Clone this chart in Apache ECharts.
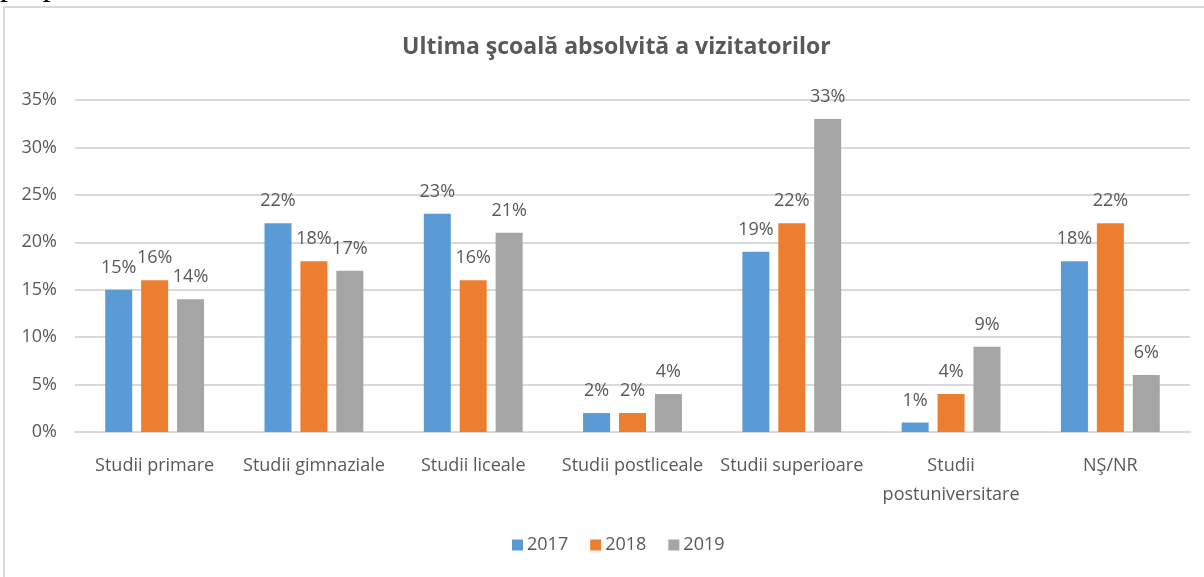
<!DOCTYPE html>
<html>
<head>
<meta charset="utf-8">
<style>
  html, body { margin: 0; padding: 0; background: #fff; }
  #chart { width: 1204px; height: 577px; }
</style>
<script src="https://cdn.jsdelivr.net/npm/echarts@6/dist/echarts.min.js"></script>
</head>
<body>
<div id="chart"></div>
<script>
// Education levels of visitors, share per year (percent)
const categories = ['Studii primare', 'Studii gimnaziale', 'Studii liceale', 'Studii postliceale', 'Studii superioare', 'Studii\npostuniversitare', 'NŞ/NR'];
const years = ['2017', '2018', '2019'];
const values2017 = [15, 22, 23, 2, 19, 1, 18];
const values2018 = [16, 18, 16, 2, 22, 4, 22];
const values2019 = [14, 17, 21, 4, 33, 9, 6];
const yTicks = [0, 5, 10, 15, 20, 25, 30, 35];

const colors = ['#5B9BD5', '#ED7D31', '#A5A5A5'];
const textColor = '#595959';
const font = 'Open Sans';

const chart = echarts.init(document.getElementById('chart'), null, { renderer: 'canvas' });

function barSeries(name, data) {
  return {
    name: name,
    type: 'bar',
    data: data,
    barWidth: 27,
    barGap: '33%',
    label: {
      show: true,
      position: 'top',
      distance: 13,
      formatter: '{c}%',
      color: textColor,
      fontFamily: font,
      fontSize: 18
    }
  };
}

chart.setOption({
  color: colors,
  animation: false,
  textStyle: { fontFamily: font },
  title: {
    text: 'Ultima şcoală absolvită a vizitatorilor',
    left: 397,
    top: 31,
    textStyle: { color: textColor, fontFamily: font, fontSize: 23, fontWeight: 'bold' }
  },
  legend: {
    data: years,
    bottom: 18,
    left: 507,
    itemWidth: 11,
    itemHeight: 11,
    itemGap: 22,
    icon: 'rect',
    textStyle: { color: textColor, fontFamily: font, fontSize: 18, padding: [0, 0, 0, -1] }
  },
  grid: { left: 75, right: 14, top: 100, bottom: 145, containLabel: false },
  xAxis: {
    type: 'category',
    data: categories,
    axisLine: { lineStyle: { color: '#D9D9D9', width: 2 } },
    axisTick: { show: false },
    axisLabel: { color: textColor, fontFamily: font, fontSize: 18, margin: 19, lineHeight: 29, interval: 0 }
  },
  yAxis: {
    type: 'value',
    min: yTicks[0],
    max: yTicks[yTicks.length - 1],
    interval: yTicks[1] - yTicks[0],
    axisLine: { show: false },
    axisTick: { show: false },
    splitLine: { lineStyle: { color: '#D9D9D9', width: 2 } },
    axisLabel: { color: textColor, fontFamily: font, fontSize: 18, margin: 18, formatter: '{value}%' }
  },
  graphic: [
    {
      type: 'rect',
      shape: { x: 4, y: 7, width: 1220, height: 600 },
      style: { fill: 'none', stroke: '#D9D9D9', lineWidth: 2 },
      silent: true
    },
    {
      type: 'text',
      x: 0,
      y: -29,
      style: { text: 'prop', fontFamily: 'Liberation Serif', fontSize: 32, fill: '#000' },
      silent: true,
      z: 10
    }
  ],
  series: [
    barSeries(years[0], values2017),
    barSeries(years[1], values2018),
    barSeries(years[2], values2019)
  ]
});
</script>
</body>
</html>
